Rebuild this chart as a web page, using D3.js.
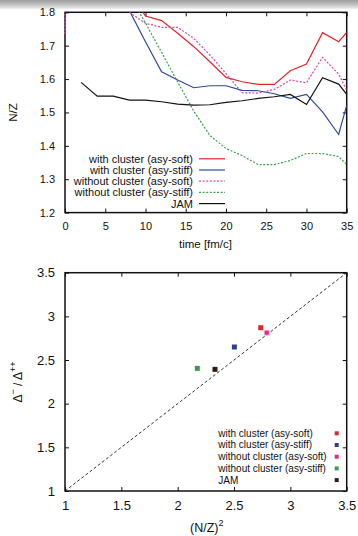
<!DOCTYPE html>
<html>
<head>
<meta charset="utf-8">
<script src="https://cdn.jsdelivr.net/npm/d3@7"></script>
<style>
  html, body { margin: 0; padding: 0; background: #fff; }
  svg { display: block; }
  text { font-family: "Liberation Sans", Arial, sans-serif; fill: #111; }
</style>
</head>
<body>
<svg id="fig" width="358" height="536"></svg>
<script>
// ---- Upper panel: N/Z versus time ----
const timeSteps = [0, 2, 4, 6, 8, 10, 12, 14, 16, 18, 20, 22, 24, 26, 28, 30, 32, 34, 35];
const seriesNames = [
  "with cluster (asy-soft)",
  "with cluster (asy-stiff)",
  "without cluster (asy-soft)",
  "without cluster (asy-stiff)",
  "JAM"
];
// null = no value at that time step
const withClusterSoft   = [null, null, null, null, 1.86, 1.789, 1.775, 1.737, 1.697, 1.652, 1.605, 1.592, 1.584, 1.584, 1.625, 1.645, 1.739, 1.712, 1.740];
const withClusterStiff  = [null, null, null, null, 1.805, 1.712, 1.622, 1.597, 1.574, 1.580, 1.580, 1.566, 1.565, 1.556, 1.542, 1.554, 1.502, 1.434, 1.521];
const withoutClusterSoft  = [1.735, 40.0, null, null, 1.80, 1.767, 1.755, 1.755, 1.722, 1.672, 1.617, 1.559, 1.558, 1.569, 1.597, 1.589, 1.665, 1.615, 1.567];
const withoutClusterStiff = [null, null, null, null, 1.85, 1.768, 1.680, 1.591, 1.504, 1.431, 1.392, 1.371, 1.344, 1.344, 1.356, 1.377, 1.377, 1.368, 1.344];
const jam = [null, 1.590, 1.549, 1.549, 1.537, 1.537, 1.532, 1.525, 1.522, 1.523, 1.530, 1.535, 1.542, 1.547, 1.554, 1.524, 1.604, 1.585, 1.554];
const timeTicks = [0, 5, 10, 15, 20, 25, 30, 35];
const nzTicks = [1.2, 1.3, 1.4, 1.5, 1.6, 1.7, 1.8];

// ---- Lower panel: Delta ratio versus (N/Z)^2 ----
const nz2Values    = [2.737, 2.503, 2.790, 2.174, 2.331];
const deltaRatios  = [2.870, 2.649, 2.813, 2.404, 2.393];
const nz2Ticks = [1, 1.5, 2, 2.5, 3, 3.5];
const ratioTicks = [1, 1.5, 2, 2.5, 3, 3.5];
const diagonal = [1, 3.5];

const lineColors = ["#e3242b", "#2e4a94", "#e0449c", "#3a9e4a", "#111111"];
const markColors = ["#d8282e", "#2b3f8c", "#dc2f8a", "#3a9a50", "#2e1c14"];
const lineDash   = [null, null, "2,1.6", "2,1.6", null];

const svg = d3.select("#fig");

// grey band along the upper edge
const defs = svg.append("defs");
const grad = defs.append("linearGradient").attr("id", "band").attr("x1", 0).attr("y1", 0).attr("x2", 0).attr("y2", 1);
grad.append("stop").attr("offset", "0%").attr("stop-color", "#9c9c9c");
grad.append("stop").attr("offset", "55%").attr("stop-color", "#c8c8c8");
grad.append("stop").attr("offset", "100%").attr("stop-color", "#ffffff");
svg.append("rect").attr("x", 0).attr("y", 0).attr("width", 358).attr("height", 10).attr("fill", "url(#band)");

function frameAxes(g, x, y, xTicks, yTicks, w, h, fmtX, fmtY, fontSize, tickLen) {
  const axB = d3.axisBottom(x).tickValues(xTicks).tickSize(-tickLen).tickPadding(tickLen + 6).tickFormat(fmtX);
  const axT = d3.axisTop(x).tickValues(xTicks).tickSize(-tickLen).tickFormat("");
  const axL = d3.axisLeft(y).tickValues(yTicks).tickSize(-tickLen).tickPadding(tickLen + 6).tickFormat(fmtY);
  const axR = d3.axisRight(y).tickValues(yTicks).tickSize(-tickLen).tickFormat("");
  const gb = g.append("g").attr("transform", `translate(0,${h})`).call(axB);
  const gt = g.append("g").call(axT);
  const gl = g.append("g").call(axL);
  const gr = g.append("g").attr("transform", `translate(${w},0)`).call(axR);
  [gb, gt, gl, gr].forEach(a => {
    a.select(".domain").remove();
    a.selectAll("line").attr("stroke", "#111").attr("stroke-width", 1);
    a.selectAll("text").attr("font-size", fontSize).attr("font-family", "'Liberation Sans', Arial, sans-serif").attr("fill", "#111");
  });
  g.append("rect").attr("x", 0).attr("y", 0).attr("width", w).attr("height", h)
    .attr("fill", "none").attr("stroke", "#111").attr("stroke-width", 1.5);
}

// ---------- upper panel ----------
{
  const left = 65, top = 12.3, w = 281.7, h = 200.3;
  const g = svg.append("g").attr("transform", `translate(${left},${top})`);
  const x = d3.scaleLinear().domain([0, 35]).range([0, w]);
  const y = d3.scaleLinear().domain([1.2, 1.8]).range([h, 0]);

  defs.append("clipPath").attr("id", "clipTop").append("rect").attr("x", -1).attr("width", w + 1).attr("height", h);

  frameAxes(g, x, y, timeTicks, nzTicks, w, h, d3.format("d"), d3.format(".1f"), 11, 4);

  const all = [withClusterSoft, withClusterStiff, withoutClusterSoft, withoutClusterStiff, jam];
  const line = d3.line().defined(d => d[1] !== null).x(d => x(d[0])).y(d => y(d[1]));
  const plot = g.append("g").attr("clip-path", "url(#clipTop)");
  all.forEach((vals, i) => {
    plot.append("path")
      .datum(timeSteps.map((t, k) => [t, vals[k]]))
      .attr("d", line)
      .attr("fill", "none")
      .attr("stroke", lineColors[i])
      .attr("stroke-width", 1.2)
      .attr("stroke-dasharray", lineDash[i]);
  });

  // legend
  const leg = g.append("g");
  seriesNames.forEach((name, i) => {
    const yy = 146.5 + i * 11.2;
    leg.append("text").attr("x", 128).attr("y", yy + 4).attr("text-anchor", "end")
      .attr("font-size", 11).text(name);
    leg.append("line").attr("x1", 134).attr("x2", 160).attr("y1", yy).attr("y2", yy)
      .attr("stroke", lineColors[i]).attr("stroke-width", 1.2).attr("stroke-dasharray", lineDash[i]);
  });

  svg.append("text").attr("x", 205.5).attr("y", 248).attr("text-anchor", "middle")
    .attr("font-size", 11.5).text("time [fm/c]");
  svg.append("text").attr("transform", "translate(17,112.5) rotate(-90)").attr("text-anchor", "middle")
    .attr("font-size", 11.5).text("N/Z");
}

// ---------- lower panel ----------
{
  const left = 65, top = 272.7, w = 281.7, h = 218.3;
  const g = svg.append("g").attr("transform", `translate(${left},${top})`);
  const x = d3.scaleLinear().domain([1, 3.5]).range([0, w]);
  const y = d3.scaleLinear().domain([1, 3.5]).range([h, 0]);

  g.append("line")
    .attr("x1", x(diagonal[0])).attr("y1", y(diagonal[0]))
    .attr("x2", x(diagonal[1])).attr("y2", y(diagonal[1]))
    .attr("stroke", "#333").attr("stroke-width", 1).attr("stroke-dasharray", "3,2.2");

  const fmt = d => (Number.isInteger(d) ? d3.format("d")(d) : d3.format(".1f")(d));
  frameAxes(g, x, y, nz2Ticks, ratioTicks, w, h, fmt, fmt, 13, 4);

  const ms = 5;
  g.selectAll("rect.pt").data(nz2Values).enter().append("rect")
    .attr("class", "pt")
    .attr("x", (d, i) => x(d) - ms / 2)
    .attr("y", (d, i) => y(deltaRatios[i]) - ms / 2)
    .attr("width", ms).attr("height", ms)
    .attr("fill", (d, i) => markColors[i])
    .attr("stroke", (d, i) => i === 2 ? "#f4c6dc" : "none")
    .attr("stroke-width", 0.8);

  // legend
  seriesNames.forEach((name, i) => {
    const yy = 160.6 + i * 11.7;
    g.append("text").attr("x", 153.3).attr("y", yy + 3.5)
      .attr("font-family", "'Open Sans', sans-serif").attr("font-size", 10)
      .attr("fill", "#222").text(name);
    g.append("rect").attr("x", 271.7 - 2).attr("y", yy - 2).attr("width", 4).attr("height", 4)
      .attr("fill", markColors[i]);
  });

  const xl = svg.append("text").attr("x", 190).attr("y", 532).attr("font-size", 12.5);
  xl.append("tspan").text("(N/Z)");
  xl.append("tspan").attr("dy", -6).attr("font-size", 9).text("2");

  const yl = svg.append("text").attr("transform", "translate(22,382) rotate(-90)").attr("text-anchor", "middle").attr("font-size", 12);
  yl.append("tspan").text("Δ");
  yl.append("tspan").attr("dy", -6).attr("font-size", 9).text("−");
  yl.append("tspan").attr("dy", 6).text(" / Δ");
  yl.append("tspan").attr("dy", -6).attr("font-size", 9).text("++");
}
</script>
</body>
</html>
